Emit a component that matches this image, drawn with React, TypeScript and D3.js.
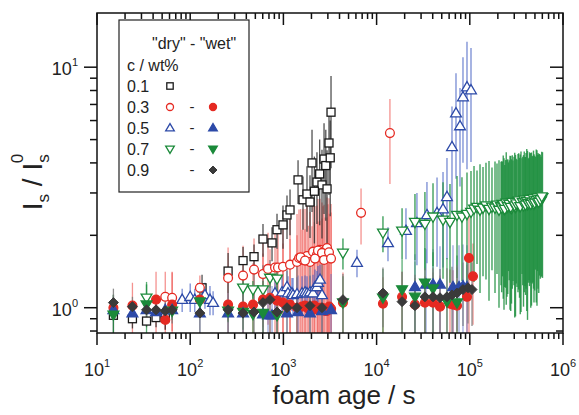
import React from "react";
import * as d3 from "d3";

// ---------- data (foam age t in s, I_s/I_s^0 value v, error e) ----------
// 0.1 wt% "dry" (open squares)
const t01 = [15, 24, 34, 43, 54, 134, 255, 369, 484, 604, 755, 854, 990, 1093, 1178, 1436, 1623, 1791, 1929, 2028, 2291, 2594, 2729, 2939, 3085, 3243, 2150, 2450, 2850, 3180];
const v01 = [0.93, 0.90, 0.88, 0.91, 0.91, 1.21, 1.42, 1.57, 1.63, 1.93, 1.86, 2.11, 2.21, 2.43, 2.55, 3.40, 2.81, 2.97, 2.75, 4.0, 3.33, 3.24, 4.15, 3.12, 4.84, 6.5, 3.05, 3.6, 3.9, 4.2];
const e01 = [0.2, 0.08, 0.05, 0.08, 0.1, 0.16, 0.27, 0.22, 0.2, 0.3, 0.3, 0.35, 0.45, 0.5, 0.55, 0.7, 0.7, 0.9, 0.8, 1.5, 1.1, 1.3, 1.7, 1.4, 1.9, 2.7, 1.2, 1.4, 1.6, 1.8];

// 0.3 wt% "dry" (open circles)
const t03d = [54, 64, 127, 255, 369, 484, 604, 684, 813, 875, 990, 1178, 1400, 1470, 1623, 1791, 1929, 2080, 2291, 2470, 2660, 2939, 3013, 6810, 13900, 1530, 1706, 2183, 2350, 2594, 2729, 3085, 3243];
const v03d = [1.11, 1.10, 1.21, 1.33, 1.36, 1.44, 1.38, 1.45, 1.47, 1.47, 1.48, 1.51, 1.55, 1.61, 1.58, 1.64, 1.55, 1.71, 1.66, 1.74, 1.64, 1.77, 1.64, 2.48, 5.32, 1.62, 1.57, 1.60, 1.73, 1.69, 1.58, 1.70, 1.60];
const e03d = [0.3, 0.3, 0.15, 0.45, 0.45, 0.5, 0.55, 0.6, 0.7, 0.7, 0.8, 0.85, 0.9, 0.95, 1.0, 1.0, 0.95, 1.05, 1.0, 1.1, 1.0, 1.1, 1.05, 0.65, 2.05, 0.95, 1.0, 1.05, 1.1, 1.05, 1.1, 1.15, 1.1];

// 0.3 wt% "wet" (filled circles)
const t03w = [15, 24, 43, 54, 64, 127, 255, 369, 472, 604, 718, 854, 990, 1178, 1400, 1706, 2028, 2470, 2939, 4355, 11700, 18760, 25800, 33000, 40300, 47900, 61300, 66000, 72900, 93300, 98000, 108200, 1585, 1850, 2150, 2350, 2600, 2800, 3100, 3250];
const v03w = [1.00, 1.02, 1.08, 0.89, 1.03, 1.08, 1.03, 1.01, 1.03, 1.08, 1.10, 1.07, 1.05, 1.03, 1.00, 1.02, 0.98, 1.00, 0.97, 1.05, 1.04, 1.11, 1.03, 1.05, 1.05, 1.01, 1.04, 1.03, 1.02, 1.11, 1.61, 1.35, 1.01, 0.99, 1.02, 0.98, 1.00, 0.97, 1.01, 0.99];
const e03w = [0.05, 0.25, 0.33, 0.15, 0.38, 0.1, 0.3, 0.4, 0.5, 0.6, 0.65, 0.7, 0.8, 0.9, 1.0, 1.1, 1.2, 1.3, 1.4, 0.35, 0.3, 0.3, 0.3, 0.3, 0.35, 0.35, 0.4, 0.4, 0.45, 0.4, 0.9, 0.5, 1.1, 1.2, 1.25, 1.3, 1.35, 1.4, 1.45, 1.5];

// 0.5 wt% "dry" (open triangles)
const t05d = [82, 100, 112, 144, 163, 176, 813, 966, 1093, 1120, 1236, 1268, 1400, 1585, 1706, 1791, 1929, 2080, 2183, 2291, 2350, 2470, 2594, 6160, 13250, 20660, 27100, 34700, 44500, 51600, 56900, 64400, 71100, 78500, 84500, 93300, 103000];
const v05d = [1.08, 1.11, 1.08, 1.13, 1.08, 1.05, 1.15, 1.16, 1.22, 1.15, 1.15, 1.13, 1.14, 1.15, 1.16, 1.15, 1.16, 1.15, 1.22, 1.22, 1.27, 1.31, 1.13, 1.54, 1.86, 2.09, 2.25, 2.43, 2.48, 2.57, 2.89, 4.66, 6.44, 5.69, 7.51, 8.26, 8.03];
const e05d = [0.12, 0.15, 0.12, 0.14, 0.15, 0.12, 0.2, 0.2, 0.2, 0.2, 0.18, 0.2, 0.2, 0.2, 0.2, 0.2, 0.2, 0.22, 0.22, 0.2, 0.22, 0.2, 0.2, 0.2, 0.3, 0.5, 0.75, 0.9, 1.0, 1.1, 1.3, 2.2, 3.0, 2.5, 3.5, 4.5, 4.0];

// 0.5 wt% "wet" (filled triangles)
const t05w = [15, 24, 34, 43, 54, 64, 127, 255, 369, 604, 684, 755, 1093, 1436, 1929, 2594, 3243, 25800, 33900, 40300, 47900, 66000, 76600, 84500, 93300];
const v05w = [0.98, 0.95, 0.98, 0.96, 0.98, 0.98, 0.95, 0.95, 0.95, 0.94, 0.93, 0.93, 0.95, 0.96, 0.95, 0.97, 0.98, 1.22, 1.25, 1.25, 1.25, 1.22, 1.22, 1.23, 1.22];
const e05w = [0.05, 0.05, 0.05, 0.08, 0.06, 0.08, 0.2, 0.2, 0.25, 0.3, 0.3, 0.3, 0.35, 0.4, 0.4, 0.4, 0.4, 0.45, 0.5, 0.5, 0.55, 0.6, 0.6, 0.6, 0.6];

// 0.7 wt% "dry" (open down triangles)
const t07d = [34, 369, 472, 604, 718, 854, 4355, 11700, 18760, 25800, 33000, 40300, 51600, 61300, 72900, 82400, 93300,
  103000, 111000, 119500, 128700, 138600, 149200, 160700, 173000, 186400, 195800, 205700, 216200, 224300, 232800, 241600, 250700, 260200, 270000, 280200, 290800,
  298000, 309300, 320900, 329000, 341400, 354300, 363200, 376900, 391200, 401000, 416100, 431900, 442700, 459200, 476600, 488400, 507000, 526000, 539300, 559500, 580600, 602600,
  220000, 228500, 237000, 246000, 255500, 265000, 275000, 285500, 303500, 315000, 335000, 347800, 370000, 384000, 396000, 408500, 424000, 437000, 451000, 468000, 482500, 497500, 516500, 532500, 549500, 570000, 591500];
const v07d = [1.10, 1.21, 1.19, 1.19, 1.33, 1.32, 1.69, 2.05, 2.09, 2.27, 2.23, 2.39, 2.32, 2.27, 2.43, 2.39, 2.45,
  2.50, 2.58, 2.62, 2.55, 2.60, 2.66, 2.57, 2.63, 2.60, 2.68, 2.55, 2.64, 2.70, 2.58, 2.66, 2.61, 2.72, 2.63, 2.59, 2.69,
  2.74, 2.62, 2.67, 2.76, 2.65, 2.71, 2.78, 2.66, 2.73, 2.80, 2.69, 2.75, 2.82, 2.72, 2.78, 2.70, 2.84, 2.77, 2.80, 2.86, 2.79, 2.88,
  2.61, 2.69, 2.57, 2.73, 2.64, 2.70, 2.62, 2.75, 2.66, 2.71, 2.79, 2.64, 2.74, 2.81, 2.68, 2.77, 2.72, 2.83, 2.70, 2.76, 2.85, 2.73, 2.80, 2.87, 2.75, 2.82, 2.90];
const e07d = [0.15, 0.1, 0.1, 0.1, 0.12, 0.15, 0.25, 0.35, 0.5, 0.7, 0.8, 0.9, 1.0, 1.0, 1.1, 1.1, 1.2,
  1.2, 1.3, 1.1, 1.4, 1.25, 1.35, 1.5, 1.2, 1.45, 1.3, 1.55, 1.4, 1.35, 1.6, 1.45, 1.5, 1.3, 1.65, 1.55, 1.4,
  1.5, 1.7, 1.45, 1.6, 1.55, 1.75, 1.4, 1.65, 1.5, 1.6, 1.8, 1.45, 1.55, 1.7, 1.5, 1.65, 1.4, 1.75, 1.6, 1.5, 1.45, 1.55,
  1.45, 1.6, 1.35, 1.7, 1.5, 1.4, 1.65, 1.55, 1.75, 1.45, 1.6, 1.7, 1.5, 1.65, 1.55, 1.8, 1.45, 1.6, 1.7, 1.5, 1.65, 1.55, 1.75, 1.45, 1.6, 1.5, 1.55];

// 0.7 wt% "wet" (filled down triangles)
const t07w = [15, 34, 64, 127, 255, 369, 472, 604, 854, 4355, 11700, 18760, 25800, 33000, 40300, 56900, 72900];
const v07w = [0.935, 1.03, 0.97, 1.06, 0.97, 0.96, 0.94, 0.95, 0.93, 1.05, 1.10, 1.19, 1.11, 1.27, 1.20, 1.06, 1.05];
const e07w = [0.2, 0.25, 0.08, 0.1, 0.1, 0.15, 0.2, 0.25, 0.3, 0.3, 0.35, 0.4, 0.45, 0.5, 0.5, 0.55, 0.6];

// 0.9 wt% "wet" (filled diamonds)
const t09w = [15, 24, 34, 43, 54, 64, 127, 255, 369, 484, 604, 718, 854, 1093, 1400, 1929, 2594, 4355, 11700, 18760, 25800, 33000, 40300, 47900, 56900, 64400, 72900, 84500, 95600, 105600];
const v09w = [1.05, 1.01, 0.98, 0.98, 0.97, 0.98, 0.95, 0.98, 0.95, 0.96, 1.05, 1.08, 0.96, 1.00, 1.00, 1.02, 1.00, 1.08, 1.15, 1.06, 1.02, 1.11, 1.11, 1.10, 1.11, 1.13, 1.15, 1.19, 1.21, 1.19];
const e09w = [0.15, 0.1, 0.08, 0.1, 0.1, 0.12, 0.3, 0.35, 0.4, 0.45, 0.45, 0.5, 0.5, 0.55, 0.6, 0.6, 0.6, 0.3, 0.32, 0.35, 0.35, 0.35, 0.35, 0.35, 0.35, 0.35, 0.35, 0.35, 0.35, 0.35];

// axes
const xMajor = [10, 100, 1000, 10000, 100000, 1000000];
const xExp = ["1", "2", "3", "4", "5", "6"];
const yMajor = [1, 10];
const yExp = ["0", "1"];
const legendRows = ["0.1", "0.3", "0.5", "0.7", "0.9"];

// ---------- layout ----------
const X0 = 97, X1 = 563, Y0 = 13, Y1 = 333;
const FONT = "'Liberation Sans', Arial, Helvetica, sans-serif";

const RED = "#e52a22", BLUE = "#2d4aa8", GREEN = "#1b8a3a", BLACK = "#1a1a1a", DIAM = "#3a3a3a";

type Shape = "square" | "circle" | "tri" | "tridown" | "diamond";

function Marker({ shape, cx, cy, color, filled, scale = 1 }: { shape: Shape; cx: number; cy: number; color: string; filled: boolean; scale?: number }) {
  const fill = filled ? color : "white";
  const sw = 1.3;
  if (shape === "square") {
    const s = 4.0 * scale;
    return <rect x={cx - s} y={cy - s} width={2 * s} height={2 * s} fill={fill} stroke={color} strokeWidth={sw} />;
  }
  if (shape === "circle") {
    return <circle cx={cx} cy={cy} r={4.4 * scale} fill={fill} stroke={color} strokeWidth={sw} />;
  }
  if (shape === "tri") {
    const w = 5.4 * scale, h = 9.2 * scale;
    return <path d={`M${cx},${cy - h * 0.6}L${cx + w},${cy + h * 0.4}L${cx - w},${cy + h * 0.4}Z`} fill={fill} stroke={color} strokeWidth={sw} strokeLinejoin="miter" />;
  }
  if (shape === "tridown") {
    const w = 5.4 * scale, h = 9.2 * scale;
    return <path d={`M${cx},${cy + h * 0.6}L${cx + w},${cy - h * 0.4}L${cx - w},${cy - h * 0.4}Z`} fill={fill} stroke={color} strokeWidth={sw} strokeLinejoin="miter" />;
  }
  const r = 5.0 * scale;
  return <path d={`M${cx},${cy - r}L${cx + r},${cy}L${cx},${cy + r}L${cx - r},${cy}Z`} fill={fill} stroke={color} strokeWidth={1} />;
}

export default function App() {
  const x = d3.scaleLog().domain([10, 1e6]).range([X0, X1]);
  const y = d3.scaleLog().domain([0.785, 16.8]).range([Y1, Y0]);

  const series = [
    { key: "03d", t: t03d, v: v03d, e: e03d, shape: "circle" as Shape, color: RED, filled: false, bar: "#ec4a44", barOp: 0.6, bw: 1.3 },
    { key: "03w", t: t03w, v: v03w, e: e03w, shape: "circle" as Shape, color: RED, filled: true, bar: "#ec4a44", barOp: 0.6, bw: 1.3 },
    { key: "01", t: t01, v: v01, e: e01, shape: "square" as Shape, color: BLACK, filled: false, bar: "#333333", barOp: 0.85, bw: 1.3 },
    { key: "05d", t: t05d, v: v05d, e: e05d, shape: "tri" as Shape, color: BLUE, filled: false, bar: "#4a64c4", barOp: 0.75, bw: 1.3 },
    { key: "05w", t: t05w, v: v05w, e: e05w, shape: "tri" as Shape, color: BLUE, filled: true, bar: "#5a70c8", barOp: 0.6, bw: 1.3 },
    { key: "07d", t: t07d, v: v07d, e: e07d, shape: "tridown" as Shape, color: GREEN, filled: false, bar: "#1f8f40", barOp: 0.85, bw: 1.4 },
    { key: "07w", t: t07w, v: v07w, e: e07w, shape: "tridown" as Shape, color: GREEN, filled: true, bar: "#229244", barOp: 0.75, bw: 1.3 },
    { key: "09w", t: t09w, v: v09w, e: e09w, shape: "diamond" as Shape, color: DIAM, filled: true, bar: "#7a7a7a", barOp: 0.85, bw: 1.3 },
  ];
  const markerOrder = ["01", "03d", "05d", "07d", "03w", "05w", "07w", "09w"];

  const xMinor: number[] = [];
  for (let d = 1; d < 6; d++) for (let k = 2; k <= 9; k++) xMinor.push(k * Math.pow(10, d));
  const yMinor = [0.8, 0.9, 2, 3, 4, 5, 6, 7, 8, 9];

  const yLo = (v: number, e: number) => (v - e > 0.3 ? y(v - e) : Y1 + 10);

  const lx = 119, ly = 20, lw = 130, lh = 172;
  const rowY = [86, 107, 128, 149, 170];
  const legendOpen: (Shape | null)[] = ["square", "circle", "tri", "tridown", null];
  const legendFilled: (Shape | null)[] = [null, "circle", "tri", "tridown", "diamond"];
  const legendColors = [BLACK, RED, BLUE, GREEN, DIAM];

  return (
    <svg width={579} height={415} style={{ position: "absolute", left: 0, top: 0, background: "white" }} fontFamily={FONT}>
      <defs>
        <clipPath id="plotClip">
          <rect x={X0} y={Y0} width={X1 - X0} height={Y1 - Y0} />
        </clipPath>
      </defs>
      <rect x={0} y={0} width={579} height={415} fill="white" />

      {/* error bars */}
      <g clipPath="url(#plotClip)">
        {series.map((s) => (
          <g key={"b" + s.key} stroke={s.bar} strokeOpacity={s.barOp} strokeWidth={s.bw}>
            {s.t.map((t, i) => (
              <line key={i} x1={x(t)} x2={x(t)} y1={y(s.v[i] + s.e[i])} y2={yLo(s.v[i], s.e[i])} />
            ))}
          </g>
        ))}
      </g>

      {/* markers */}
      <g clipPath="url(#plotClip)">
        {markerOrder.map((k) => {
          const s = series.find((q) => q.key === k)!;
          return (
            <g key={"m" + k}>
              {s.t.map((t, i) => (
                <Marker key={i} shape={s.shape} cx={x(t)} cy={y(s.v[i])} color={s.color} filled={s.filled} />
              ))}
            </g>
          );
        })}
      </g>

      {/* frame */}
      <rect x={X0} y={Y0} width={X1 - X0} height={Y1 - Y0} fill="none" stroke="#111" strokeWidth={1.5} />

      {/* ticks */}
      <g stroke="#111" strokeWidth={1.5}>
        {xMajor.map((v) => (
          <g key={"xM" + v}>
            <line x1={x(v)} x2={x(v)} y1={Y1} y2={Y1 + 12} />
            <line x1={x(v)} x2={x(v)} y1={Y0} y2={Y0 + 12} />
          </g>
        ))}
        {xMinor.map((v) => (
          <g key={"xm" + v}>
            <line x1={x(v)} x2={x(v)} y1={Y1} y2={Y1 + 6} />
            <line x1={x(v)} x2={x(v)} y1={Y0} y2={Y0 + 6} />
          </g>
        ))}
        {yMajor.map((v) => (
          <g key={"yM" + v}>
            <line x1={X0 - 13} x2={X0} y1={y(v)} y2={y(v)} />
            <line x1={X1 - 13} x2={X1} y1={y(v)} y2={y(v)} />
          </g>
        ))}
        {yMinor.map((v) => (
          <g key={"ym" + v}>
            <line x1={X0 - 7} x2={X0} y1={y(v)} y2={y(v)} />
            <line x1={X1 - 7} x2={X1} y1={y(v)} y2={y(v)} />
          </g>
        ))}
      </g>

      {/* tick labels */}
      <g fill="#222" fontSize={18}>
        {xMajor.map((v, i) => (
          <text key={"xl" + v} x={x(v)} y={376} textAnchor="middle">
            10<tspan fontSize={11} dy={-9}>{xExp[i]}</tspan>
          </text>
        ))}
        {yMajor.map((v, i) => (
          <text key={"yl" + v} x={78} y={y(v) + 8} textAnchor="end">
            10<tspan fontSize={11} dy={-9}>{yExp[i]}</tspan>
          </text>
        ))}
      </g>

      {/* axis titles */}
      <text x={344} y={404} textAnchor="middle" fontSize={26} fill="#222">foam age / s</text>
      <g transform="translate(42,182) rotate(-90)">
        <text x={0} y={0} textAnchor="middle" fontSize={28} fill="#222">
          I<tspan fontSize={17} dy={7}>s</tspan>
          <tspan dy={-7}> / I</tspan>
          <tspan fontSize={17} dy={7}>s</tspan>
          <tspan fontSize={17} dx={-9} dy={-26}>0</tspan>
        </text>
      </g>

      {/* legend */}
      <g>
        <rect x={lx} y={ly} width={lw} height={lh} fill="white" stroke="#222" strokeWidth={1.2} />
        <text x={152} y={49} fontSize={16} fill="#222">"dry" - "wet"</text>
        <text x={127} y={71} fontSize={16} fill="#222">c / wt%</text>
        {legendRows.map((r, i) => (
          <g key={"lg" + r}>
            <text x={127} y={rowY[i] + 6} fontSize={16} fill="#222">{r}</text>
            {legendOpen[i] && <Marker shape={legendOpen[i]!} cx={170} cy={rowY[i]} color={legendColors[i]} filled={false} scale={0.8} />}
            {i > 0 && <text x={192} y={rowY[i] + 5} fontSize={15} fill="#222" textAnchor="middle">-</text>}
            {legendFilled[i] && <Marker shape={legendFilled[i]!} cx={213} cy={rowY[i]} color={legendColors[i]} filled={true} scale={0.8} />}
          </g>
        ))}
      </g>
    </svg>
  );
}
